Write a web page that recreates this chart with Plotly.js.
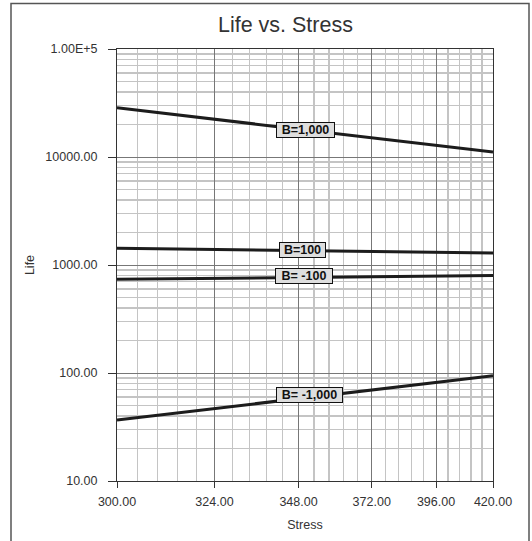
<!DOCTYPE html>
<html>
<head>
<meta charset="utf-8">
<script src="https://cdn.plot.ly/plotly-3.0.1.min.js"></script>
<style>
  html, body { margin: 0; padding: 0; background: #fff; }
  #chart { width: 532px; height: 541px; }
</style>
</head>
<body>
<div id="chart"></div>
<script>
// ---- data ----
const stress = [300, 324, 348, 372, 396, 420];
const lifeB1000 = [28600, 22400, 18100, 15100, 12800, 11100];
const lifeB100 = [1426, 1390, 1361, 1335, 1313, 1294];
const lifeBm100 = [738, 754, 766, 778, 788, 798];
const lifeBm1000 = [36.7, 46.8, 58.0, 69.6, 82.0, 94.4];
const seriesNames = ["B=1,000", "B=100", "B= -100", "B= -1,000"];
const xTickStress = [300, 324, 348, 372, 396, 420];
const yTickVals = [10, 100, 1000, 10000, 100000];
const yTickText = ["10.00", "100.00", "1000.00", "10000.00", "1.00E+5"];

// reciprocal stress axis (x plotted as 1/stress)
const inv = s => 1 / s;

// minor grid positions
const xMinor = [];
for (let i = 0; i < xTickStress.length - 1; i++) {
  for (let k = 1; k < 5; k++) xMinor.push(inv(xTickStress[i] + k * (xTickStress[i + 1] - xTickStress[i]) / 5));
}
const yMinor = [];
for (let d = 1; d < 5; d++) for (let k = 2; k < 10; k++) yMinor.push(k * Math.pow(10, d));

const lineStyle = { color: "#1c1c1c", width: 3 };
const allSeries = [lifeB1000, lifeB100, lifeBm100, lifeBm1000];
const traces = allSeries.map((ys, i) => ({
  x: stress.map(inv), y: ys, type: "scatter", mode: "lines",
  name: seriesNames[i], line: lineStyle, hoverinfo: "skip"
}));

const font = "Liberation Sans, Arial, sans-serif";
// label anchors (stress, life)
const labelAt = [[350, 17900], [349.3, 1380], [349.6, 785], [351.5, 62]];
const labelW = [55, 43, 54, 63];
const annotations = seriesNames.map((t, i) => ({
  x: inv(labelAt[i][0]), y: Math.log10(labelAt[i][1]), xref: "x", yref: "y",
  text: "<b>" + t + "</b>", showarrow: false,
  font: { family: font, size: 12.5, color: "#111" },
  bgcolor: "#dedede", bordercolor: "#111", borderwidth: 1, borderpad: 1,
  width: labelW[i], height: 12
}));

const layout = {
  width: 532, height: 541,
  margin: { l: 117, r: 39, t: 49, b: 60 },
  paper_bgcolor: "#fff", plot_bgcolor: "#fff",
  showlegend: false,
  font: { family: font, color: "#333", size: 12.5 },
  title: {
    text: "Life vs. Stress", font: { family: font, size: 21.5, color: "#333" },
    x: 0.448, xref: "paper", xanchor: "center", y: 1 - 24 / 541, yref: "container", yanchor: "middle"
  },
  xaxis: {
    type: "linear", range: [inv(300), inv(420)],
    tickmode: "array", tickvals: xTickStress.map(inv), ticktext: xTickStress.map(s => s.toFixed(2)),
    ticks: "outside", ticklen: 6, tickcolor: "#333", tickwidth: 1, ticklabelstandoff: 3,
    showline: true, linecolor: "#333", linewidth: 1, mirror: true,
    showgrid: true, gridcolor: "#777", gridwidth: 1, zeroline: false,
    tickfont: { size: 12.5, color: "#333" },
    minor: { tickmode: "array", tickvals: xMinor, showgrid: true, gridcolor: "#c4c4c4", gridwidth: 1.3, ticks: "" },
    title: { text: "Stress", font: { size: 12.5, color: "#333" }, standoff: 12 },
    automargin: false
  },
  yaxis: {
    type: "log", range: [1, 5],
    tickmode: "array", tickvals: yTickVals, ticktext: yTickText,
    ticks: "outside", ticklen: 8, tickcolor: "#333", tickwidth: 1, ticklabelstandoff: 8,
    showline: true, linecolor: "#333", linewidth: 1, mirror: true,
    showgrid: true, gridcolor: "#777", gridwidth: 1, zeroline: false,
    tickfont: { size: 12.5, color: "#333" },
    minor: { tickmode: "array", tickvals: yMinor, showgrid: true, gridcolor: "#c4c4c4", gridwidth: 1.3, ticks: "" },
    title: { text: "Life", font: { size: 12.5, color: "#333" }, standoff: 7 },
    automargin: false
  },
  annotations: annotations,
  shapes: [{
    type: "rect", xref: "paper", yref: "paper",
    x0: (11 - 117) / 376, x1: (529 - 117) / 376,
    y0: (481 - 548) / 432, y1: (481 - 3.5) / 432,
    line: { color: "#555", width: 1.5 }, fillcolor: "rgba(0,0,0,0)", layer: "above"
  }]
};

Plotly.newPlot("chart", traces, layout, { displayModeBar: false, staticPlot: true });
</script>
</body>
</html>
